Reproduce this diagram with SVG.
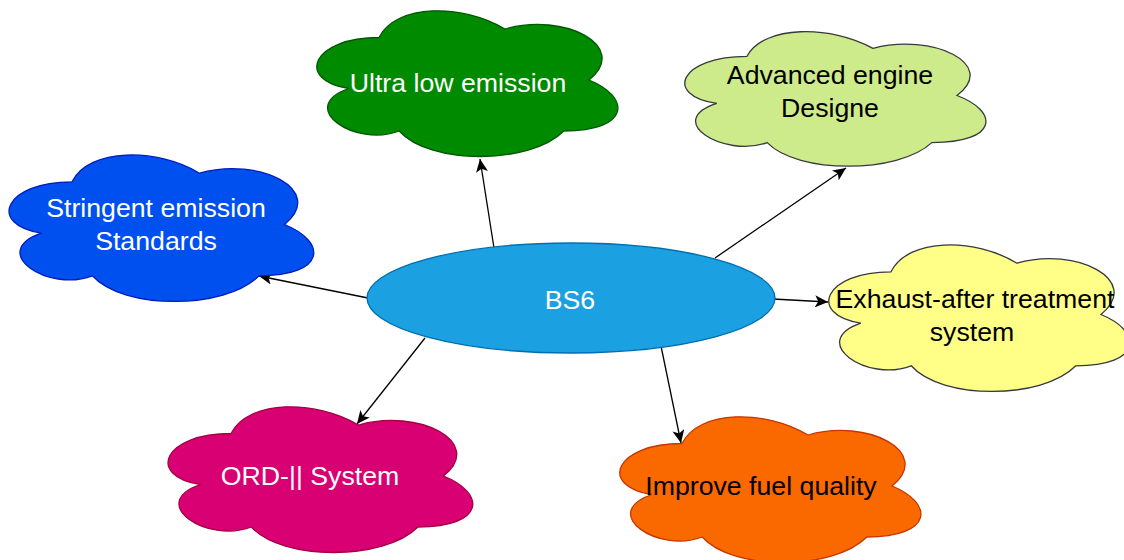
<svg xmlns="http://www.w3.org/2000/svg" width="1124" height="560" viewBox="0 0 1124 560">
<style>
  .cloud { stroke-width: 1.3; }
  .lbl { font-family: "Liberation Sans", Arial, sans-serif; font-size: 26.7px; text-anchor: middle; }
  .w { fill: #ffffff; }
  .k { fill: #000000; }
  .edge { stroke: #000000; stroke-width: 1.3; fill: none; marker-end: url(#arrow); }
</style>
<defs>
  <marker id="arrow" markerUnits="userSpaceOnUse" markerWidth="13" markerHeight="12" viewBox="0 0 13 12" refX="13" refY="6" orient="auto">
    <path d="M13,6 L0,0 L3.25,6 L0,12 Z" fill="#000000"/>
  </marker>
</defs>
<rect x="0" y="0" width="1124" height="560" fill="#ffffff"/>

<g id="connectors">
  <line class="edge" x1="494" y1="248" x2="480" y2="159"/>
  <line class="edge" x1="715" y1="258" x2="846" y2="168"/>
  <line class="edge" x1="368" y1="298" x2="259" y2="276"/>
  <line class="edge" x1="773" y1="299" x2="828" y2="302"/>
  <line class="edge" x1="425" y1="338" x2="357" y2="424"/>
  <line class="edge" x1="661" y1="346" x2="681" y2="443"/>
</g>

<g id="node-bs6">
  <ellipse cx="571" cy="298" rx="204" ry="55" fill="#1ba1e2" stroke="#006eaf" stroke-width="1.3"/>
  <text class="lbl w" x="570" y="309">BS6</text>
</g>

<g id="node-ultra">
  <path class="cloud" fill="#008a00" stroke="#005700" d="M379,37.5 C311.8,37.5 295,80 348.8,88.5 C295,107.2 355.5,148 399.2,131 C429.4,165 530.2,165 563.8,131 C631,131 631,97 589,80 C631,46 563.8,12 505,29 C463,3.5 395.8,3.5 379,37.5 Z"/>
  <text class="lbl w" x="458" y="92">Ultra low emission</text>
</g>

<g id="node-advanced">
  <path class="cloud" fill="#cdeb8b" stroke="#36393d" d="M747,56.3 C679.8,56.3 663,95.5 716.8,103.4 C663,120.6 723.5,158.3 767.2,142.6 C797.4,174 898.2,174 931.8,142.6 C999,142.6 999,111.2 957,95.5 C999,64.1 931.8,32.7 873,48.4 C831,24.9 763.8,24.9 747,56.3 Z"/>
  <text class="lbl k" x="830" y="84">Advanced engine</text>
  <text class="lbl k" x="830" y="117">Designe</text>
</g>

<g id="node-stringent">
  <path class="cloud" fill="#0050ef" stroke="#001dbc" d="M72,181.8 C4,181.8 -13,224.5 41.4,233.1 C-13,251.9 48.2,292.9 92.4,275.8 C123,310 225,310 259,275.8 C327,275.8 327,241.6 284.5,224.5 C327,190.3 259,156.1 199.5,173.2 C157,147.6 89,147.6 72,181.8 Z"/>
  <text class="lbl w" x="156" y="217">Stringent emission</text>
  <text class="lbl w" x="156" y="250">Standards</text>
</g>

<g id="node-exhaust">
  <path class="cloud" fill="#ffff88" stroke="#36393d" d="M891,271.8 C823.8,271.8 807,314.5 860.8,323.1 C807,341.9 867.5,382.9 911.2,365.8 C941.4,400 1042.2,400 1075.8,365.8 C1143,365.8 1143,331.6 1101,314.5 C1143,280.3 1075.8,246.1 1017,263.2 C975,237.6 907.8,237.6 891,271.8 Z"/>
  <text class="lbl k" x="975" y="308">Exhaust-after treatment</text>
  <text class="lbl k" x="972" y="341">system</text>
</g>

<g id="node-ord">
  <path class="cloud" fill="#d80073" stroke="#a50040" d="M231,433.5 C163,433.5 146,476 200.4,484.5 C146,503.2 207.2,544 251.4,527 C282,561 384,561 418,527 C486,527 486,493 443.5,476 C486,442 418,408 358.5,425 C316,399.5 248,399.5 231,433.5 Z"/>
  <text class="lbl w" x="310" y="485">ORD-|| System</text>
</g>

<g id="node-fuel">
  <path class="cloud" fill="#fa6800" stroke="#c73500" d="M682,443.5 C614.8,443.5 598,486 651.8,494.5 C598,513.2 658.5,554 702.2,537 C732.4,571 833.2,571 866.8,537 C934,537 934,503 892,486 C934,452 866.8,418 808,435 C766,409.5 698.8,409.5 682,443.5 Z"/>
  <text class="lbl k" x="761" y="495">Improve fuel quality</text>
</g>
</svg>
